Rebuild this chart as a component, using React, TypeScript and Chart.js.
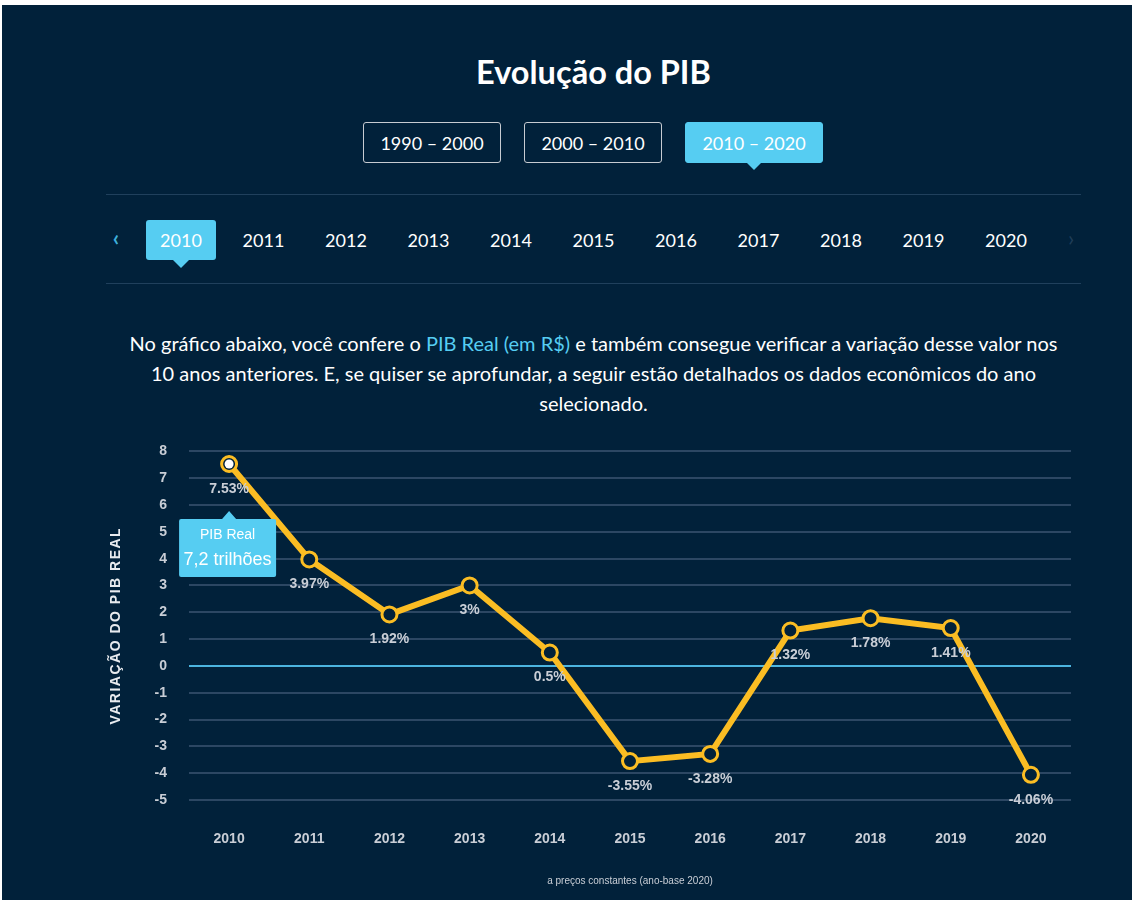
import React, { useEffect, useRef } from "react";
import { Chart, registerables } from "chart.js";

Chart.register(...registerables);

const years = ["2010", "2011", "2012", "2013", "2014", "2015", "2016", "2017", "2018", "2019", "2020"];
const variation = [7.53, 3.97, 1.92, 3, 0.5, -3.55, -3.28, 1.32, 1.78, 1.41, -4.06];
const valueLabels = ["7.53%", "3.97%", "1.92%", "3%", "0.5%", "-3.55%", "-3.28%", "1.32%", "1.78%", "1.41%", "-4.06%"];
const yMin = -5;
const yMax = 8;
const periods = ["1990 – 2000", "2000 – 2010", "2010 – 2020"];
const activePeriod = 2;
const activeYear = 0;
const tooltipTitle = "PIB Real";
const tooltipValue = "7,2 trilhões";
const yTitle = "VARIAÇÃO DO PIB REAL";
const xTitle = "a preços constantes (ano-base 2020)";

const BG = "#01213a";
const CYAN = "#56cdf2";
const YELLOW = "#fbbd23";
const CHART_FONT = "Arial, 'Liberation Sans', Helvetica, sans-serif";

const labelsPlugin = {
  id: "pointLabels",
  afterDatasetsDraw(chart: any) {
    const ctx = chart.ctx;
    const meta = chart.getDatasetMeta(0);
    ctx.save();
    ctx.font = `bold 14px ${CHART_FONT}`;
    ctx.fillStyle = "#c9ced6";
    ctx.textAlign = "center";
    ctx.textBaseline = "middle";
    meta.data.forEach((pt: any, i: number) => {
      ctx.fillText(valueLabels[i], pt.x, pt.y + 25);
    });
    const sel = meta.data[activeYear];
    ctx.beginPath();
    ctx.arc(sel.x, sel.y, 4.5, 0, Math.PI * 2);
    ctx.fillStyle = "#ffffff";
    ctx.fill();
    ctx.restore();
  },
};

const overlayPlugin = {
  id: "overlay",
  afterDraw(chart: any) {
    const ctx = chart.ctx;
    const meta = chart.getDatasetMeta(0);
    const pt = meta.data[activeYear];
    const px = pt.x;
    const py = pt.y;
    ctx.save();
    const left = px - 50;
    const right = px + 47;
    const top = py + 55;
    const bottom = py + 113;
    ctx.fillStyle = CYAN;
    ctx.beginPath();
    ctx.moveTo(left + 2, top);
    ctx.lineTo(px - 7, top);
    ctx.lineTo(px, top - 8);
    ctx.lineTo(px + 7, top);
    ctx.lineTo(right - 2, top);
    ctx.quadraticCurveTo(right, top, right, top + 2);
    ctx.lineTo(right, bottom - 2);
    ctx.quadraticCurveTo(right, bottom, right - 2, bottom);
    ctx.lineTo(left + 2, bottom);
    ctx.quadraticCurveTo(left, bottom, left, bottom - 2);
    ctx.lineTo(left, top + 2);
    ctx.quadraticCurveTo(left, top, left + 2, top);
    ctx.closePath();
    ctx.fill();
    ctx.fillStyle = "#ffffff";
    ctx.textAlign = "center";
    ctx.textBaseline = "middle";
    const cx = (left + right) / 2;
    ctx.font = `14px ${CHART_FONT}`;
    ctx.fillText(tooltipTitle, cx, py + 71);
    ctx.font = `18px ${CHART_FONT}`;
    ctx.fillText(tooltipValue, cx, py + 96);

    const ya = chart.scales.y;
    ctx.translate(16, (ya.top + ya.bottom) / 2);
    ctx.rotate(-Math.PI / 2);
    ctx.font = `bold 14px ${CHART_FONT}`;
    (ctx as any).letterSpacing = "1.5px";
    ctx.fillStyle = "#e8ebef";
    ctx.fillText(yTitle, 0, 0);
    ctx.restore();
  },
};

function PibChart() {
  const ref = useRef<HTMLCanvasElement | null>(null);
  useEffect(() => {
    if (!ref.current) return;
    const chart = new Chart(ref.current, {
      type: "line",
      data: {
        labels: years,
        datasets: [
          {
            data: variation,
            borderColor: YELLOW,
            borderWidth: 6,
            tension: 0,
            pointRadius: 7.5,
            pointBorderWidth: 3,
            pointBorderColor: YELLOW,
            pointBackgroundColor: BG,
            pointHoverRadius: 7.5,
          },
        ],
      },
      options: {
        responsive: false,
        animation: false,
        events: [],
        layout: { padding: { top: 0, right: 29, bottom: 0, left: 0 } },
        plugins: {
          legend: { display: false },
          tooltip: { enabled: false },
          title: { display: false },
        },
        scales: {
          x: {
            offset: true,
            grid: { display: false, drawTicks: false },
            border: { display: false },
            ticks: {
              color: "#c9ced6",
              font: { family: CHART_FONT, size: 14, weight: "bold" },
              padding: 31,
            },
            title: {
              display: true,
              text: xTitle,
              color: "#c9ced6",
              font: { family: CHART_FONT, size: 10 },
              padding: { top: 0, bottom: 13 },
            },
            afterFit: (scale: any) => {
              scale.height = 100;
            },
          },
          y: {
            min: yMin,
            max: yMax,
            grid: {
              drawTicks: false,
              lineWidth: 2,
              color: (c: any) => (c.tick && c.tick.value === 0 ? "#4cb5df" : "#2c4763"),
            },
            border: { display: false },
            ticks: {
              stepSize: 1,
              color: "#c9ced6",
              font: { family: CHART_FONT, size: 14, weight: "bold" },
              padding: 22,
            },
            afterFit: (scale: any) => {
              scale.width = 89;
            },
          },
        },
      },
      plugins: [labelsPlugin, overlayPlugin],
    });
    return () => chart.destroy();
  }, []);
  return <canvas ref={ref} width={1000} height={479} style={{ width: 1000, height: 479, display: "block" }} />;
}

export default function App() {
  const lato = "Lato, 'Open Sans', sans-serif";
  const abs = (o: any) => ({ position: "absolute" as const, ...o });
  return (
    <div style={abs({ left: 0, top: 0, width: 1132, height: 900, background: "#ffffff", overflow: "hidden", fontFamily: lato })}>
      <div style={abs({ left: 2, top: 5, width: 1130, height: 895, background: BG })} />
      <div
        style={abs({
          left: 56,
          top: 52,
          width: 1075,
          height: 40,
          lineHeight: "40px",
          textAlign: "center",
          color: "#ffffff",
          fontSize: 32.5,
          fontWeight: 700,
        })}
      >
        Evolução do PIB
      </div>
      {periods.map((p, i) => {
        const active = i === activePeriod;
        const left = 363 + i * 161;
        return (
          <React.Fragment key={p}>
            <div
              style={abs({
                left,
                top: 122,
                width: 138,
                height: 41,
                boxSizing: "border-box",
                border: active ? `1px solid ${CYAN}` : "1px solid #c7cbd1",
                background: active ? CYAN : "transparent",
                borderRadius: 3,
                color: "#ffffff",
                fontSize: 18,
                lineHeight: "41px",
                textAlign: "center",
              })}
            >
              {p}
            </div>
            {active && (
              <div
                style={abs({
                  left: left + 69 - 7,
                  top: 163,
                  width: 0,
                  height: 0,
                  borderLeft: "7px solid transparent",
                  borderRight: "7px solid transparent",
                  borderTop: `7px solid ${CYAN}`,
                })}
              />
            )}
          </React.Fragment>
        );
      })}
      <div style={abs({ left: 106, top: 194, width: 975, height: 1, background: "#20405c" })} />
      <div style={abs({ left: 106, top: 283, width: 975, height: 1, background: "#20405c" })} />
      <div style={abs({ left: 108, top: 224, width: 16, height: 28, lineHeight: "28px", color: "#3fb0dc", fontSize: 22, fontWeight: 700, textAlign: "center" })}>‹</div>
      <div style={abs({ left: 1063, top: 224, width: 16, height: 28, lineHeight: "28px", color: "#1f3d58", fontSize: 22, textAlign: "center" })}>›</div>
      {years.map((y, i) => {
        const cx = 181 + i * 82.5;
        const active = i === activeYear;
        return (
          <React.Fragment key={y}>
            {active && (
              <>
                <div style={abs({ left: cx - 35, top: 220, width: 70, height: 40, background: CYAN, borderRadius: 3 })} />
                <div
                  style={abs({
                    left: cx - 8,
                    top: 260,
                    width: 0,
                    height: 0,
                    borderLeft: "8px solid transparent",
                    borderRight: "8px solid transparent",
                    borderTop: `8px solid ${CYAN}`,
                  })}
                />
              </>
            )}
            <div
              style={abs({
                left: cx - 35,
                top: 220,
                width: 70,
                height: 40,
                lineHeight: "40px",
                textAlign: "center",
                color: "#ffffff",
                fontSize: 18,
              })}
            >
              {y}
            </div>
          </React.Fragment>
        );
      })}
      <div
        style={abs({
          left: 56,
          top: 328,
          width: 1075,
          lineHeight: "30px",
          textAlign: "center",
          color: "#ffffff",
          fontSize: 20,
          whiteSpace: "nowrap",
        })}
      >
        No gráfico abaixo, você confere o <span style={{ color: CYAN }}>PIB Real (em R$)</span> e também consegue verificar a variação desse valor nos
        <br />
        10 anos anteriores. E, se quiser se aprofundar, a seguir estão detalhados os dados econômicos do ano
        <br />
        selecionado.
      </div>
      <div style={abs({ left: 100, top: 421, width: 1000, height: 479 })}>
        <PibChart />
      </div>
    </div>
  );
}
